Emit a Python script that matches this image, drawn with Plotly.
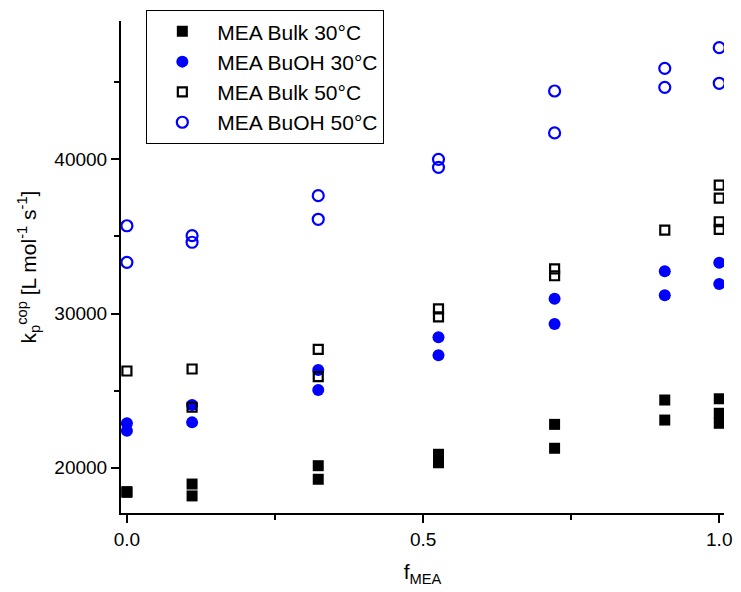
import plotly.graph_objects as go

# Data
bulk30_x = [0.0, 0.0, 0.11, 0.11, 0.323, 0.323, 0.526, 0.526, 0.722, 0.722, 0.908, 0.908, 1.0, 1.0, 1.0]
bulk30_y = [18400, 18450, 18940, 18170, 20130, 19250, 20870, 20320, 22810, 21260, 24390, 23090, 24470, 23530, 22880]

buoh30_x = [0.0, 0.0, 0.11, 0.11, 0.323, 0.323, 0.526, 0.526, 0.722, 0.722, 0.908, 0.908, 1.0, 1.0]
buoh30_y = [22880, 22400, 24070, 22940, 26340, 25040, 28460, 27300, 30960, 29320, 32740, 31180, 33290, 31910]

bulk50_x = [0.0, 0.11, 0.11, 0.323, 0.323, 0.526, 0.526, 0.722, 0.722, 0.908, 1.0, 1.0, 1.0, 1.0]
bulk50_y = [26270, 26400, 23920, 27680, 25900, 30300, 29780, 32890, 32450, 35410, 38330, 37480, 35950, 35460]

buoh50_x = [0.0, 0.0, 0.11, 0.11, 0.323, 0.323, 0.526, 0.526, 0.722, 0.722, 0.908, 0.908, 1.0, 1.0]
buoh50_y = [35690, 33320, 35050, 34620, 37640, 36110, 40000, 39480, 44430, 41710, 45900, 44670, 47240, 44930]

FONT = "Liberation Sans, Arial, sans-serif"

fig = go.Figure()
fig.add_trace(go.Scatter(x=bulk30_x, y=bulk30_y, mode="markers", name="MEA Bulk 30°C",
                         marker=dict(symbol="square", size=11, color="black")))
fig.add_trace(go.Scatter(x=buoh30_x, y=buoh30_y, mode="markers", name="MEA BuOH 30°C",
                         marker=dict(symbol="circle", size=12, color="#0000ff")))
fig.add_trace(go.Scatter(x=bulk50_x, y=bulk50_y, mode="markers", name="MEA Bulk 50°C",
                         marker=dict(symbol="square-open", size=9, color="black",
                                     line=dict(width=2.2, color="black"))))
fig.add_trace(go.Scatter(x=buoh50_x, y=buoh50_y, mode="markers", name="MEA BuOH 50°C",
                         marker=dict(symbol="circle-open", size=11, color="#0000ff",
                                     line=dict(width=2.2, color="#0000ff"))))

fig.update_layout(
    width=741, height=592,
    margin=dict(l=121, r=9, t=21, b=79),
    paper_bgcolor="white", plot_bgcolor="white",
    font=dict(family=FONT, size=19, color="black"),
    showlegend=True,
    legend=dict(x=0.042, y=1.022, xanchor="left", yanchor="top",
                bordercolor="black", borderwidth=1, bgcolor="white",
                itemwidth=60,
                font=dict(family=FONT, size=21), tracegroupgap=0),
    xaxis=dict(range=[-0.01, 1.008], showgrid=False, zeroline=False,
               showline=True, linecolor="black", linewidth=2, mirror=False,
               ticks="outside", ticklen=8, tickwidth=2, tickcolor="black",
               tickvals=[0.0, 0.5, 1.0], ticktext=["0.0", "0.5", "1.0"],
               minor=dict(tickvals=[0.25, 0.75], ticks="outside", ticklen=5, tickwidth=2, tickcolor="black"),
               tickfont=dict(family=FONT, size=19),
               title=dict(text="f<sub>MEA</sub>", font=dict(family=FONT, size=21), standoff=16)),
    yaxis=dict(range=[17062, 48970], showgrid=False, zeroline=False,
               showline=True, linecolor="black", linewidth=2, mirror=False,
               ticks="outside", ticklen=8, tickwidth=2, tickcolor="black",
               tickvals=[20000, 30000, 40000], ticktext=["20000", "30000", "40000"],
               minor=dict(tickvals=[25000, 35000, 45000], ticks="outside", ticklen=5, tickwidth=2, tickcolor="black"),
               tickfont=dict(family=FONT, size=19),
               title=dict(text="k<sub>p</sub><sup>cop</sup> [L mol<sup>-1</sup> s<sup>-1</sup>]",
                          font=dict(family=FONT, size=21), standoff=12)),
)

fig.write_html("out.html")
